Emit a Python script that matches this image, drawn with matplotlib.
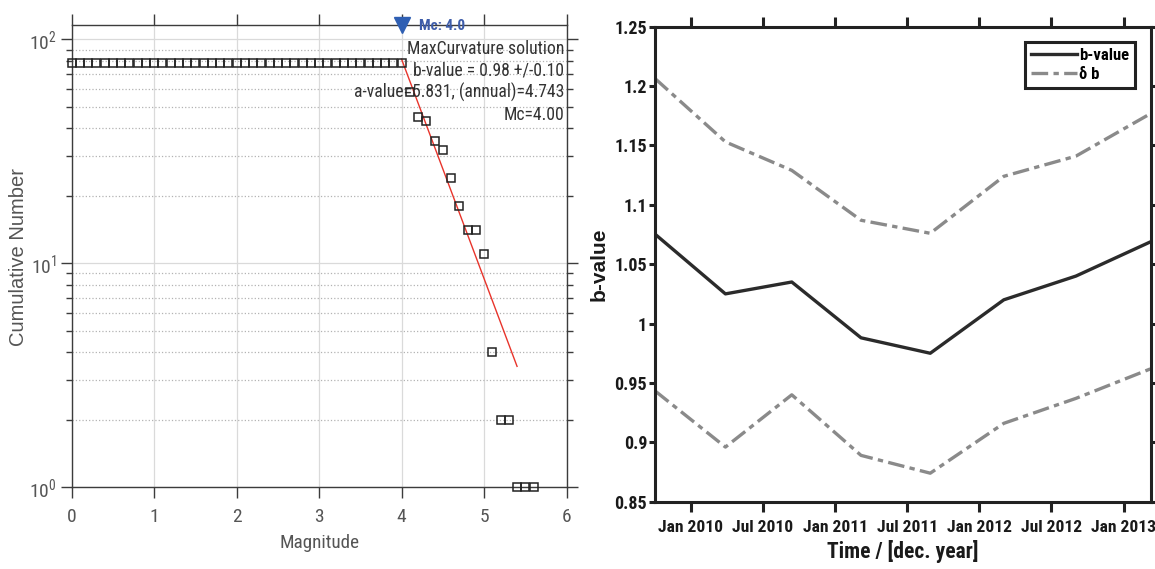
import numpy as np
import matplotlib
matplotlib.use("Agg")
import matplotlib.pyplot as plt
from matplotlib.ticker import FixedLocator, FuncFormatter, NullFormatter, LogLocator

narrow = ['Liberation Sans Narrow', 'Arial Narrow', 'Roboto Condensed', 'Archivo Narrow',
          'Liberation Sans', 'DejaVu Sans']
plt.rcParams['font.family'] = narrow

# --- frequency-magnitude data ---
magnitudes = np.round(np.arange(0.0, 5.65, 0.1), 1)
cum_number = [78] * 41 + [58, 45, 43, 35, 32, 24, 18, 14, 14, 11, 4, 2, 2, 1, 1, 1]

mc = 4.0
b_value = 0.98
b_err = 0.10
a_value = 5.831
a_annual = 4.743
fit_mags = [4.0, 5.4]

# --- b-value through time ---
dec_years = [2009.755, 2010.24, 2010.70, 2011.18, 2011.66, 2012.17, 2012.67, 2013.19]
b_series = [1.075, 1.025, 1.035, 0.988, 0.975, 1.020, 1.040, 1.069]
db_upper = [1.206, 1.153, 1.129, 1.087, 1.076, 1.124, 1.141, 1.177]
db_lower = [0.943, 0.896, 0.940, 0.889, 0.874, 0.916, 0.937, 0.962]
time_ticks = [2010.0, 2010.5, 2011.0, 2011.5, 2012.0, 2012.5, 2013.0]
time_labels = ['Jan 2010', 'Jul 2010', 'Jan 2011', 'Jul 2011', 'Jan 2012', 'Jul 2012', 'Jan 2013']
b_ticks = [0.85, 0.9, 0.95, 1.0, 1.05, 1.1, 1.15, 1.2, 1.25]

fig = plt.figure(figsize=(11.55, 5.69), dpi=100)

# ================= left: cumulative FMD =================
ax1 = fig.add_axes([0.0621, 0.1441, 0.4284, 0.8128])
frame = '#3c3c3c'
for s in ax1.spines.values():
    s.set_color(frame)
    s.set_linewidth(1.0)

ax1.set_yscale('log')
ax1.set_xlim(0, 6)
ax1.set_ylim(1, 116.4)
ax1.xaxis.set_major_locator(FixedLocator(range(7)))
ax1.yaxis.set_major_locator(LogLocator(base=10))
ax1.yaxis.set_minor_locator(LogLocator(base=10, subs=np.arange(2, 10)))
ax1.yaxis.set_major_formatter(FuncFormatter(lambda v, p: r'$\mathregular{10^{%d}}$' % round(np.log10(v))))
ax1.yaxis.set_minor_formatter(NullFormatter())
ax1.tick_params(which='both', direction='out', top=True, right=True, color=frame,
                labelcolor='#555555', labelsize=14)
ax1.tick_params(which='major', length=8, width=1.0)
ax1.tick_params(which='minor', length=4.5, width=1.0)
ax1.tick_params(axis='x', pad=7)
ax1.tick_params(axis='y', pad=3)

ax1.set_axisbelow(True)
ax1.grid(which='major', color='#dadada', ls='-', lw=0.9)
ax1.grid(which='minor', axis='y', color='#b3b3b3', ls=':', lw=0.9)

ax1.plot(magnitudes, cum_number, ls='none', marker='s', ms=5.6, mfc='none',
         mec='#222222', mew=1.1, clip_on=False, zorder=4)

# Gutenberg-Richter fit from the MaxCurvature a and b values
fit_n = [10 ** (a_value - b_value * m) for m in fit_mags]
ax1.plot(fit_mags, fit_n, color='#e8342b', lw=1.0, zorder=3)

ax1.plot([mc], [116.4], marker='v', ms=11, color='#2f5fb3', clip_on=False, zorder=5)
ax1.text(mc + 0.21, 0.997, 'Mc: %.1f' % mc, transform=ax1.get_xaxis_transform(),
         color='#3d5caa', fontsize=11, fontweight='bold', ha='left', va='center')

info = ['MaxCurvature solution',
        'b-value = %.2f +/-%.2f' % (b_value, b_err),
        'a-value=%.3f, (annual)=%.3f' % (a_value, a_annual),
        'Mc=%.2f' % mc]
for i, line in enumerate(info):
    ax1.text(0.995, 0.947 - i * 0.0472, line, transform=ax1.transAxes,
             ha='right', va='center', fontsize=12.7, color='#333333')

ax1.set_xlabel('Magnitude', fontsize=13.8, color='#555555', labelpad=6)
fig.text(0.0156, 0.549, 'Cumulative Number', rotation=90, ha='center', va='center',
         fontsize=14.5, color='#555555', family=['Liberation Sans', 'DejaVu Sans'])

# ================= right: b-value time series =================
ax2 = fig.add_axes([0.5675, 0.1183, 0.429, 0.8348])
for s in ax2.spines.values():
    s.set_color('#222222')
    s.set_linewidth(2.2)

dashdot = (5, 1.6, 1.6, 1.6)
ax2.plot(dec_years, db_upper, color='#8a8a8a', lw=2.4, ls='-.', dashes=dashdot)
ax2.plot(dec_years, db_lower, color='#8a8a8a', lw=2.4, ls='-.', dashes=dashdot)
ax2.plot(dec_years, b_series, color='#2b2b2b', lw=2.4, label='b-value')
ax2.plot([], [], color='#8a8a8a', lw=2.4, ls='-.', dashes=dashdot, label='δ b')

ax2.set_xlim(2009.755, 2013.19)
ax2.set_ylim(0.85, 1.25)
ax2.set_xticks(time_ticks)
ax2.set_xticklabels(time_labels)
ax2.set_yticks(b_ticks)
ax2.yaxis.set_major_formatter(FuncFormatter(lambda v, p: '%g' % round(v, 2)))
ax2.tick_params(direction='out', top=True, right=True, width=2.2, color='#222222',
                labelcolor='#1a1a1a')
ax2.tick_params(axis='x', length=7, pad=6, labelsize=12.6)
ax2.tick_params(axis='y', length=4, pad=2, labelsize=13)
for lab in ax2.get_xticklabels() + ax2.get_yticklabels():
    lab.set_fontweight('bold')

ax2.set_xlabel('Time / [dec. year]', fontsize=15.5, fontweight='bold', color='#1a1a1a', labelpad=4)
fig.text(0.5186, 0.535, 'b-value', rotation=90, ha='center', va='center', fontsize=15,
         fontweight='bold', color='#1a1a1a', family=['Liberation Sans', 'DejaVu Sans'])

leg = ax2.legend(loc='upper right', bbox_to_anchor=(0.9677, 0.9678), borderaxespad=0,
                 fancybox=False, framealpha=1, edgecolor='#222222', handlelength=2.8,
                 handletextpad=0.1, borderpad=0.35, labelspacing=0.25,
                 prop={'weight': 'bold', 'size': 12})
leg.get_frame().set_linewidth(2.2)

fig.savefig('out.png', dpi=100)
